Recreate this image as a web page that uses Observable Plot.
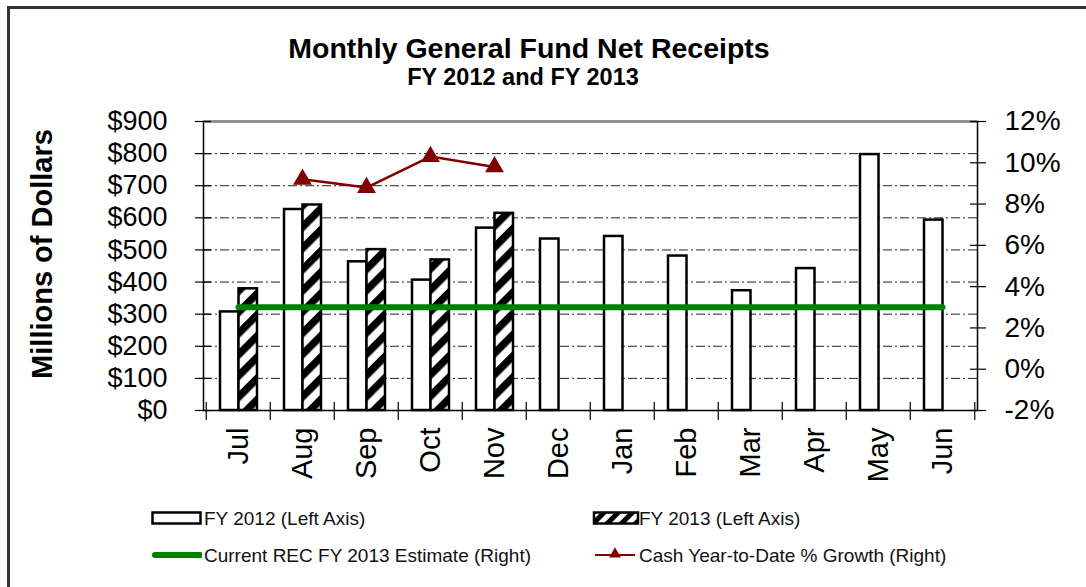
<!DOCTYPE html>
<html><head><meta charset="utf-8">
<script src="https://cdn.jsdelivr.net/npm/d3@7"></script>
<script src="https://cdn.jsdelivr.net/npm/@observablehq/plot@0.6"></script>
<style>
html,body{margin:0;padding:0;background:#fff;}
#wrap{position:relative;width:1086px;height:587px;overflow:hidden;background:#fff;font-family:"Liberation Sans",Arial,sans-serif;color:#000;}
#frame{position:absolute;left:7px;top:6px;width:1200px;height:700px;border:3px solid #333;pointer-events:none;}
#title{position:absolute;left:0;width:1058px;top:35px;text-align:center;font-weight:bold;font-size:28.5px;line-height:26px;white-space:nowrap;}
#subtitle{position:absolute;left:0;width:1046px;top:66px;text-align:center;font-weight:bold;font-size:23.5px;line-height:22px;white-space:nowrap;}
#ylabel{position:absolute;left:42px;top:254px;transform:translate(-50%,-50%) rotate(-90deg);font-weight:bold;font-size:29px;line-height:29px;white-space:nowrap;}
#chart{position:absolute;left:0;top:100px;}
.lg{position:absolute;font-size:19px;line-height:19px;white-space:nowrap;color:#111;}
.sw{position:absolute;}
</style></head><body>
<div id="wrap">
<div id="chart"></div>
<div id="title">Monthly General Fund Net Receipts</div>
<div id="subtitle">FY 2012 and FY 2013</div>
<div id="ylabel">Millions of Dollars</div>
<div id="legend"></div>
<div id="frame"></div>
</div>
<script>
// ---- data ----
const months = ["Jul","Aug","Sep","Oct","Nov","Dec","Jan","Feb","Mar","Apr","May","Jun"];
const fy2012 = [307, 626, 463, 406, 568, 534, 542, 481, 373, 442, 797, 593];
const fy2013 = [379, 640, 501, 469, 614];
const growthMonths = ["Aug","Sep","Oct","Nov"];
const growthPct = [9.2, 8.8, 10.3, 9.8];
const estimateMonths = months;
const estimatePct = 3.0;
const leftTicks = [0,100,200,300,400,500,600,700,800,900];
const gridTicks = [100,200,300,400,500,600,700,800];
const rightTicks = [-2,0,2,4,6,8,10,12];
const leftMax = 900, rightMin = -2, rightMax = 12;
const legendLabels = ["FY 2012 (Left Axis)","FY 2013 (Left Axis)","Current REC FY 2013 Estimate (Right)","Cash Year-to-Date % Growth (Right)"];

// ---- derived tables ----
const toLeft = p => (p - rightMin) * leftMax / (rightMax - rightMin);
const fromLeft = v => v * (rightMax - rightMin) / leftMax + rightMin;
const d12 = months.map((m, i) => ({month: m, value: fy2012[i]}));
const d13 = fy2013.map((v, i) => ({month: months[i], value: v}));
const growth = growthMonths.map((m, i) => ({month: m, pct: growthPct[i]}));
const est = estimateMonths.map(m => ({month: m, pct: estimatePct}));

const W = 1086, H = 400, mL = 203, mR = 109, mT = 21, mB = 90;
const half = (W - mL - mR) / months.length / 2;
const FONT = '"Liberation Sans", Arial, sans-serif';

const defs = () => {
  const g = d3.create("svg:g");
  const p = g.append("defs").append("pattern").attr("id", "hatch13")
    .attr("patternUnits", "userSpaceOnUse").attr("width", 15).attr("height", 15)
    .attr("patternTransform", "rotate(45)");
  p.append("rect").attr("width", 15).attr("height", 15).attr("fill", "white");
  p.append("rect").attr("width", 7.5).attr("height", 15).attr("fill", "black");
  return g.node();
};

const chart = Plot.plot({
  width: W, height: H,
  marginTop: mT, marginBottom: mB, marginLeft: mL, marginRight: mR,
  x: {domain: months, padding: 0, axis: null},
  y: {domain: [0, leftMax], axis: null},
  style: {fontFamily: FONT, fontSize: "27px", color: "black", background: "transparent", overflow: "visible"},
  marks: [
    defs,
    Plot.ruleY(gridTicks, {stroke: "#222", strokeWidth: 1, strokeDasharray: "9,3,2,3"}),
    Plot.barY(d12, {x: "month", y: "value", fill: "white", stroke: "black", strokeWidth: 2.5, insetLeft: 14, insetRight: 31.5}),
    Plot.barY(d13, {x: "month", y: "value", fill: "url(#hatch13)", stroke: "black", strokeWidth: 2.5, insetLeft: 32.5, insetRight: 13}),
    Plot.frame({stroke: "black", strokeWidth: 1.5}),
    Plot.ruleY([leftMax], {stroke: "#8a8a8a", strokeWidth: 2.5}),
    Plot.line(est, {x: "month", y: d => toLeft(d.pct), stroke: "#008000", strokeWidth: 6, strokeLinecap: "round"}),
    Plot.line(growth, {x: "month", y: d => toLeft(d.pct), stroke: "#800000", strokeWidth: 2.5}),
    Plot.dot(growth, {x: "month", y: d => toLeft(d.pct), symbol: "triangle", r: 7, fill: "#800000", stroke: "none"}),
    // left axis
    Plot.axisY({anchor: "left", ticks: leftTicks, tickSize: 16, dx: 8, tickFormat: () => "", label: null, strokeWidth: 1.2}),
    Plot.axisY({anchor: "left", ticks: leftTicks, tickSize: 0, tickPadding: 36, tickFormat: d => "$" + d, label: null, fontSize: 27}),
    // right axis
    Plot.axisY({anchor: "right", ticks: rightTicks.map(toLeft), tickSize: 16, dx: -8, tickFormat: () => "", label: null, strokeWidth: 1.2}),
    Plot.axisY({anchor: "right", ticks: rightTicks.map(toLeft), tickSize: 0, tickPadding: 27, tickFormat: d => Math.round(fromLeft(d)) + "%", label: null, fontSize: 28}),
    // x axis
    Plot.axisX({tickSize: 18, dx: -half, dy: -8, tickFormat: () => "", label: null, strokeWidth: 1.2}),
    Plot.axisX({ticks: [months[months.length - 1]], tickSize: 18, dx: half, dy: -8, tickFormat: () => "", label: null, strokeWidth: 1.2}),
    Plot.axisX({tickSize: 0, tickRotate: -90, tickPadding: 17, label: null, fontSize: 29})
  ]
});
document.getElementById("chart").appendChild(chart);

// ---- legend ----
const lg = document.getElementById("legend");
const items = [
  {x: 150, cy: 518, tx: 204, kind: "fy12"},
  {x: 591, cy: 518, tx: 639, kind: "fy13"},
  {x: 150, cy: 555, tx: 204, kind: "est"},
  {x: 591, cy: 555, tx: 639, kind: "growth"}
];
items.forEach((it, i) => {
  const s = d3.create("svg").attr("class", "sw").attr("width", 52).attr("height", 20)
    .style("left", it.x + "px").style("top", (it.cy - 10) + "px");
  if (it.kind === "fy12") {
    s.append("rect").attr("x", 2.5).attr("y", 4.5).attr("width", 48).attr("height", 11).attr("fill", "white").attr("stroke", "black").attr("stroke-width", 2.5);
  } else if (it.kind === "fy13") {
    const p = s.append("defs").append("pattern").attr("id", "hatchLg").attr("patternUnits", "userSpaceOnUse").attr("width", 10).attr("height", 10).attr("patternTransform", "rotate(45)");
    p.append("rect").attr("width", 10).attr("height", 10).attr("fill", "white");
    p.append("rect").attr("width", 5).attr("height", 10).attr("fill", "black");
    s.append("rect").attr("x", 3).attr("y", 4.5).attr("width", 44).attr("height", 11).attr("fill", "url(#hatchLg)").attr("stroke", "black").attr("stroke-width", 2.5);
  } else if (it.kind === "est") {
    s.append("line").attr("x1", 5).attr("x2", 50).attr("y1", 10).attr("y2", 10).attr("stroke", "#008000").attr("stroke-width", 6).attr("stroke-linecap", "round");
  } else {
    s.append("line").attr("x1", 4).attr("x2", 44).attr("y1", 10).attr("y2", 10).attr("stroke", "#800000").attr("stroke-width", 2);
    s.append("path").attr("d", d3.symbol(d3.symbolTriangle, 60)()).attr("transform", "translate(24,9)").attr("fill", "#800000");
  }
  lg.appendChild(s.node());
  const t = document.createElement("div");
  t.className = "lg";
  t.textContent = legendLabels[i];
  t.style.left = it.tx + "px";
  t.style.top = (it.cy - 9.5) + "px";
  lg.appendChild(t);
});
</script>
</body></html>
